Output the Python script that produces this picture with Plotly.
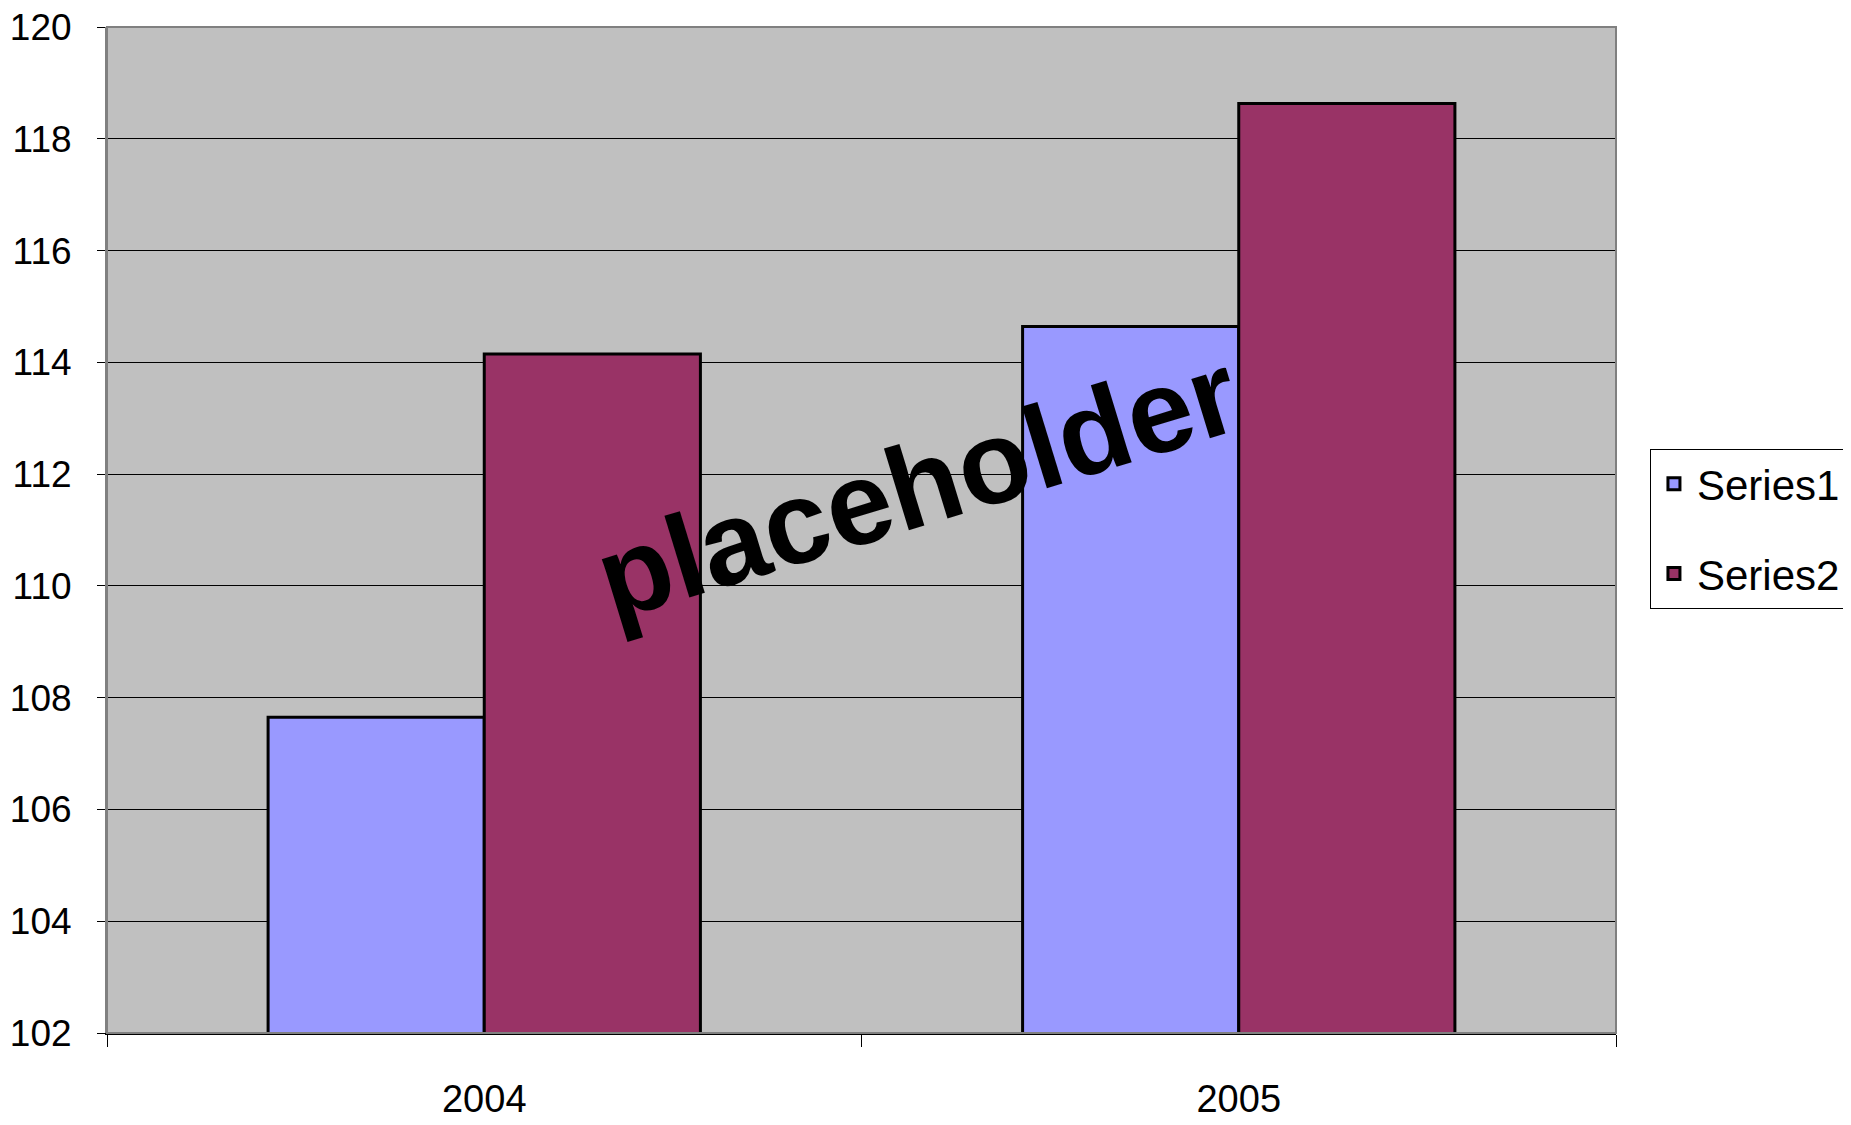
import plotly.graph_objects as go

categories = ["2004", "2005"]
series1 = [107.65, 114.64]
series2 = [114.15, 118.63]
series_names = ["Series1", "Series2"]
y_ticks = [102, 104, 106, 108, 110, 112, 114, 116, 118, 120]
watermark = "placeholder"

FONT = "Liberation Sans, Arial, sans-serif"

fig = go.Figure()
fig.add_trace(go.Bar(x=categories, y=series1, name=series_names[0], legendgroup="a",
                     marker=dict(color="#9999FF", line=dict(color="black", width=3))))
fig.add_trace(go.Bar(x=categories, y=series2, name=series_names[1], legendgroup="b",
                     marker=dict(color="#993366", line=dict(color="black", width=3))))

fig.add_annotation(x=0.537, y=0.545, xref="paper", yref="paper", text="<b>" + watermark + "</b>",
                   showarrow=False, textangle=-17,
                   font=dict(family=FONT, size=118, color="black"))

fig.update_layout(
    width=1851, height=1125,
    margin=dict(l=99, r=243, t=19, b=100, autoexpand=False),
    paper_bgcolor="white", plot_bgcolor="#C0C0C0",
    barmode="group", bargap=0.427, bargroupgap=0,
    font=dict(family=FONT, size=37, color="black"),
    showlegend=True,
    legend=dict(x=1.0225, y=0.5805, xanchor="left", yanchor="top",
                bgcolor="white", bordercolor="black", borderwidth=1,
                font=dict(family=FONT, size=42, color="black"),
                traceorder="grouped", tracegroupgap=32, itemwidth=36),
    xaxis=dict(type="category", tickson="boundaries", ticks="outside", ticklen=12,
               tickcolor="black", tickwidth=1, showline=True, linecolor="black", linewidth=1.5,
               showgrid=False, ticklabelstandoff=32, automargin=False,
               ticklabeloverflow="allow", tickfont=dict(family=FONT, size=38)),
    yaxis=dict(range=[102, 120], tickvals=y_ticks, ticks="outside", ticklen=8,
               tickcolor="black", tickwidth=1, showline=True, linecolor="#808080", linewidth=2,
               showgrid=True, gridcolor="black", gridwidth=1, zeroline=False,
               ticklabelstandoff=18, automargin=False, ticklabeloverflow="allow",
               tickfont=dict(family=FONT, size=37)),
)
fig.add_shape(type="rect", xref="paper", yref="paper", x0=0, y0=0, x1=1, y1=1,
              line=dict(color="#808080", width=2), layer="above")

fig.write_html("out.html")
